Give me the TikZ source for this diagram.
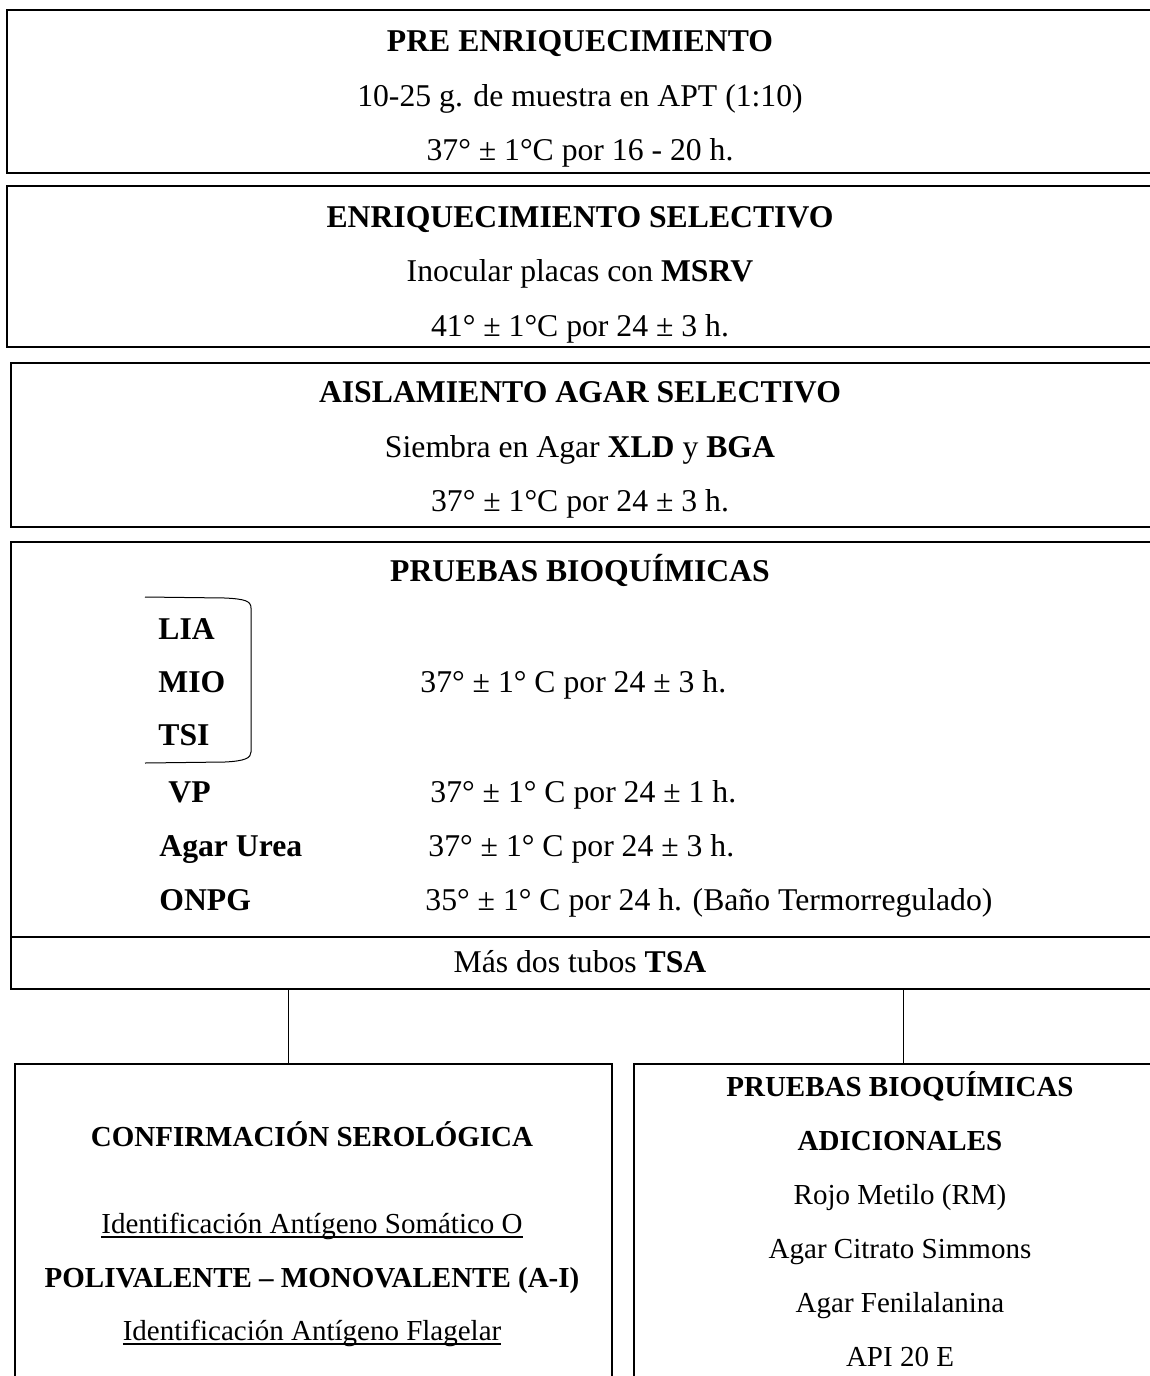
\documentclass[tikz,border=0pt]{standalone}
\usepackage{fontspec}
\setmainfont{Liberation Serif}
\newcommand{\letra}{\fontsize{15.85pt}{27.25pt}\selectfont}
\newcommand{\letrachica}{\fontsize{14.5pt}{25pt}\selectfont}
\newcommand{\subrayar}[1]{\setbox0\hbox{#1}\rlap{\rule[-0.16em]{\wd0}{0.05em}}\box0}

\begin{document}
\begin{tikzpicture}[x=0.5pt,y=-0.5pt,
        every node/.style={font=\letra, inner sep=0pt},
        caja/.style={draw=black, line width=0.75pt},
        linea/.style={draw=black, line width=0.5pt},
        centro/.style={anchor=base},
        izq/.style={anchor=base west},
        abajo/.style={anchor=base, font=\letrachica}]
        \useasboundingbox (0,0) rectangle (1150,1376);
        \clip (0,0) rectangle (1150,1376);

        % 定义各方框的角点
        \coordinate (A1) at (7,10);     \coordinate (A2) at (1160,173);
        \coordinate (B1) at (7,186);    \coordinate (B2) at (1160,347);
        \coordinate (C1) at (11,363);   \coordinate (C2) at (1160,527);
        \coordinate (D1) at (11,542);   \coordinate (D2) at (1160,989);
        \coordinate (D3) at (11,937);   \coordinate (D4) at (1160,937);
        \coordinate (E1) at (15,1064);  \coordinate (E2) at (612,1400);
        \coordinate (F1) at (634,1064); \coordinate (F2) at (1170,1400);

        % 绘制方框
        \draw[caja] (A1) rectangle (A2);
        \draw[caja] (B1) rectangle (B2);
        \draw[caja] (C1) rectangle (C2);
        \draw[caja] (D1) rectangle (D2);
        \draw[caja] (D3) -- (D4);
        \draw[caja] (E1) rectangle (E2);
        \draw[caja] (F1) rectangle (F2);

        % 连接线
        \coordinate (L1) at (288,989);  \coordinate (L2) at (288,1064);
        \coordinate (R1) at (903,989);  \coordinate (R2) at (903,1064);
        \draw[linea] (L1) -- (L2);
        \draw[linea] (R1) -- (R2);

        % 前三个方框的文字
        \node[centro] (pre1) at (580,51)  {\textbf{PRE ENRIQUECIMIENTO}};
        \node[centro] (pre2) at (580,106) {10-25 g. de muestra en APT (1:10)};
        \node[centro] (pre3) at (580,160) {37° ± 1°C por 16 - 20 h.};
        \node[centro] (enr1) at (580,227) {\textbf{ENRIQUECIMIENTO SELECTIVO}};
        \node[centro] (enr2) at (580,281) {Inocular placas con \textbf{MSRV}};
        \node[centro] (enr3) at (580,336) {41° ± 1°C por 24 ± 3 h.};
        \node[centro] (ais1) at (580,402) {\textbf{AISLAMIENTO AGAR SELECTIVO}};
        \node[centro] (ais2) at (580,457) {Siembra en Agar \textbf{XLD} y \textbf{BGA}};
        \node[centro] (ais3) at (580,511) {37° ± 1°C por 24 ± 3 h.};

        % 生化试验
        \node[centro] (bio) at (580,581) {\textbf{PRUEBAS BIOQUÍMICAS}};
        \node[izq] (lia)  at (158,639) {\textbf{LIA}};
        \node[izq] (mio)  at (158,692) {\textbf{MIO}};
        \node[izq] (tsi)  at (158,745) {\textbf{TSI}};
        \node[izq] (vp)   at (168,802) {\textbf{VP}};
        \node[izq] (urea) at (159,856) {\textbf{Agar Urea}};
        \node[izq] (onpg) at (159,910) {\textbf{ONPG}};
        \node[izq] (tmio)  at (420,692) {37° ± 1° C por 24 ± 3 h.};
        \node[izq] (tvp)   at (430,802) {37° ± 1° C por 24 ± 1 h.};
        \node[izq] (turea) at (428,856) {37° ± 1° C por 24 ± 3 h.};
        \node[izq] (tonpg) at (425,910) {35° ± 1° C por 24 h. (Baño Termorregulado)};
        \node[centro] (tsa) at (580,972) {Más dos tubos \textbf{TSA}};

        % 右侧的括号
        \coordinate (K1) at (145,597);
        \coordinate (K2) at (145,763);
        \draw[linea] (K1) -- (225,598) .. controls (245,599) and (251,601) .. (251,608)
            -- (251,752) .. controls (251,758) and (245,761) .. (225,762) -- (K2);

        % 下方两个方框的文字
        \node[abajo] (ser1) at (312,1146) {\textbf{CONFIRMACIÓN SEROLÓGICA}};
        \node[abajo] (ser2) at (312,1233) {\subrayar{Identificación Antígeno Somático O}};
        \node[abajo] (ser3) at (312,1287) {\textbf{POLIVALENTE – MONOVALENTE (A-I)}};
        \node[abajo] (ser4) at (312,1340) {\subrayar{Identificación Antígeno Flagelar}};
        \node[abajo] (adi1) at (900,1096) {\textbf{PRUEBAS BIOQUÍMICAS}};
        \node[abajo] (adi2) at (900,1150) {\textbf{ADICIONALES}};
        \node[abajo] (adi3) at (900,1204) {Rojo Metilo (RM)};
        \node[abajo] (adi4) at (900,1258) {Agar Citrato Simmons};
        \node[abajo] (adi5) at (900,1312) {Agar Fenilalanina};
        \node[abajo] (adi6) at (900,1366) {API 20 E};
    \end{tikzpicture}
\end{document}
